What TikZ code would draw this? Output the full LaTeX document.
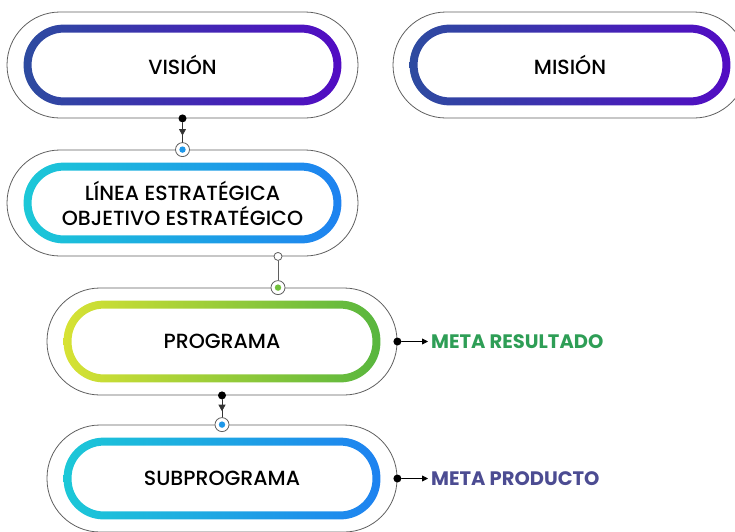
\documentclass[tikz,border=0pt]{standalone}
\usepackage{fontspec}
\setmainfont{Poppins}
\newfontfamily\pillfont{Poppins Medium}
\usetikzlibrary{arrows.meta,decorations.markings}
\definecolor{visL}{RGB}{45,75,160}
\definecolor{visR}{RGB}{82,12,195}
\definecolor{linL}{RGB}{28,200,215}
\definecolor{linR}{RGB}{30,130,240}
\definecolor{proL}{RGB}{215,226,52}
\definecolor{proR}{RGB}{88,182,62}
\definecolor{metaRes}{RGB}{46,158,86}
\definecolor{metaProd}{RGB}{76,76,146}
\definecolor{rim}{RGB}{95,95,95}
\newcommand{\pillband}[3]{%
\shade[left color=#2,right color=#3,even odd rule,rounded corners=40pt]
 ([shift={(17,13)}]#1.north west) rectangle ([shift={(-17,-13)}]#1.south east)
 [rounded corners=32pt]
 ([shift={(25,21)}]#1.north west) rectangle ([shift={(-25,-21)}]#1.south east);}
\begin{document}
\begin{tikzpicture}[x=1pt,y=-1pt,line join=round,line cap=round,>={Triangle[length=6pt,width=6pt]},
  pill/.style={draw=rim,line width=0.8pt,rounded corners=53pt,minimum width=351pt,minimum height=106pt,
    inner sep=0pt,align=center,font=\pillfont\fontsize{20.5}{25}\selectfont},
  dot/.style={circle,fill=black,inner sep=0pt,minimum size=8pt},
  opendot/.style={circle,draw=rim,fill=white,line width=0.8pt,inner sep=0pt,minimum size=8pt},
  ring/.style={circle,draw=rim,fill=white,line width=0.8pt,inner sep=0pt,minimum size=14pt,
    path picture={\fill[#1] (path picture bounding box.center) circle(3.2pt);}},
  meta/.style={anchor=west,inner sep=3pt,font=\bfseries\fontsize{19.5}{20}\selectfont},
  midarrow/.style={postaction={decorate},decoration={markings,
    mark=at position 0.66 with {\arrow{Triangle[length=6.5pt,width=7pt]}}}}]
\useasboundingbox (0,0) rectangle (735,531);
\node[pill] (vision) at (182.5,65) {VISIÓN};
\node[pill,minimum width=354pt] (mision) at (570,65) {MISIÓN};
\node[pill] (linea) at (182.5,203) {LÍNEA ESTRATÉGICA\\OBJETIVO ESTRATÉGICO};
\node[pill,minimum width=350pt,minimum height=107pt] (programa) at (222,341.5) {PROGRAMA};
\node[pill,minimum width=350pt,minimum height=107pt] (subprograma) at (222,478.5) {SUBPROGRAMA};
\pillband{vision}{visL}{visR}
\pillband{mision}{visL}{visR}
\pillband{linea}{linL}{linR}
\pillband{programa}{proL}{proR}
\pillband{subprograma}{linL}{linR}
% vision -> linea
\node[dot] (d1) at (vision.south) {};
\node[ring=linR!70!linL] (c1) at (linea.north) {};
\draw[black!80,line width=0.8pt,midarrow] (d1) -- (c1);
% linea -> programa
\node[ring=proR!80!proL] (c2) at (programa.north -| 278,0) {};
\node[opendot] (o2) at (linea.south -| c2) {};
\draw[rim,line width=0.8pt] (o2) -- (c2);
% programa -> subprograma
\node[dot] (d3) at (programa.south) {};
\node[ring=linR!70!linL] (c3) at (subprograma.north) {};
\draw[black!80,line width=0.8pt,midarrow] (d3) -- (c3);
% metas
\node[dot] (d4) at (programa.east) {};
\node[meta,text=metaRes] (res) at (428,341.5) {META RESULTADO};
\draw[->,line width=0.8pt] (d4) -- (res);
\node[dot] (d5) at (subprograma.east) {};
\node[meta,text=metaProd] (prod) at (428,478.5) {META PRODUCTO};
\draw[->,line width=0.8pt] (d5) -- (prod);
\end{tikzpicture}
\end{document}
